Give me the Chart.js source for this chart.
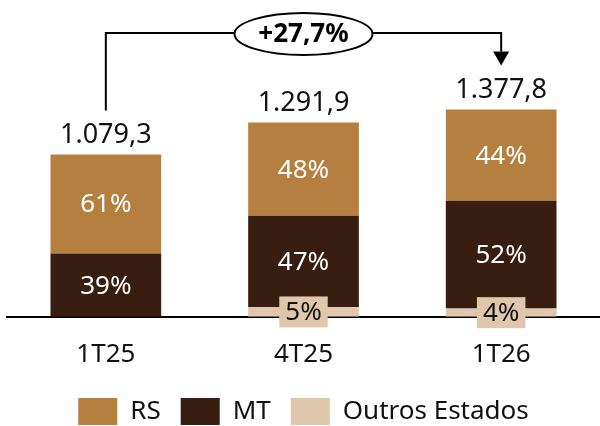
<!DOCTYPE html>
<html>
<head>
<meta charset="utf-8">
<script src="https://cdn.jsdelivr.net/npm/chart.js@4"></script>
<style>
  body { margin: 0; background: #fff; }
</style>
</head>
<body>
<canvas id="chart" width="600" height="426"></canvas>
<script>
// -------------------------- data -------------------------------- //
const periods = ['1T25', '4T25', '1T26'];
const totals = [1079.3, 1291.9, 1377.8];
const pctRS = [61, 48, 44];
const pctMT = [39, 47, 52];
const pctOutros = [0, 5, 4];
const growthLabel = '+27,7%';

const colRS = '#b5803f';
const colMT = '#371e10';
const colOutros = '#dfc7ab';
const FONT = "'Noto Sans', 'Open Sans', sans-serif";

const toValues = (pcts) => pcts.map((p, i) => totals[i] * p / 100);
const fmt = (v) => {
  const s = v.toFixed(1).replace('.', ',');
  const [a, b] = s.split(',');
  return a.replace(/\B(?=(\d{3})+(?!\d))/g, '.') + ',' + b;
};

// labels inside segments, totals on top and the growth arrow
const labelsPlugin = {
  id: 'labels',
  afterDatasetsDraw(chart) {
    const ctx = chart.ctx;
    const pcts = [pctOutros, pctMT, pctRS];
    ctx.save();
    ctx.textAlign = 'center';
    ctx.textBaseline = 'middle';
    pcts.forEach((arr, di) => {
      const meta = chart.getDatasetMeta(di);
      meta.data.forEach((el, i) => {
        if (!arr[i]) return;
        const txt = arr[i] + '%';
        const cy = (el.y + el.base) / 2;
        ctx.font = '26px ' + FONT;
        if (di === 0) {
          const w = ctx.measureText(txt).width + 12;
          ctx.fillStyle = colOutros;
          ctx.fillRect(el.x - w / 2, cy - 15.5, w, 31);
          ctx.fillStyle = '#111';
        } else {
          ctx.fillStyle = '#fff';
        }
        ctx.fillText(txt, el.x, cy + 1);
      });
    });

    // totals
    const top = chart.getDatasetMeta(2).data;
    ctx.font = '27px ' + FONT;
    ctx.fillStyle = '#111';
    ctx.textBaseline = 'bottom';
    top.forEach((el, i) => {
      ctx.fillText(fmt(totals[i]), el.x, el.y - 6);
    });

    // growth arrow
    const x0 = top[0].x, x1 = top[2].x;
    const yLine = chart.chartArea.top + 17;
    const yLeft = top[0].y - 44;
    const yTip = top[2].y - 44;
    ctx.strokeStyle = '#000';
    ctx.lineWidth = 2;
    ctx.beginPath();
    ctx.moveTo(x0, yLeft);
    ctx.lineTo(x0, yLine);
    ctx.lineTo(x1, yLine);
    ctx.lineTo(x1, yTip - 14);
    ctx.stroke();
    ctx.fillStyle = '#000';
    ctx.beginPath();
    ctx.moveTo(x1 - 8, yTip - 14);
    ctx.lineTo(x1 + 8, yTip - 14);
    ctx.lineTo(x1, yTip);
    ctx.closePath();
    ctx.fill();

    const cx = (x0 + x1) / 2;
    ctx.beginPath();
    ctx.ellipse(cx, yLine + 1, 69, 21, 0, 0, Math.PI * 2);
    ctx.fillStyle = '#fff';
    ctx.fill();
    ctx.stroke();
    ctx.fillStyle = '#000';
    ctx.font = 'bold 26px ' + FONT;
    ctx.textBaseline = 'middle';
    ctx.fillText(growthLabel, cx, yLine + 2);
    ctx.restore();
  }
};

const ctx1 = document.getElementById('chart');
const chart = new Chart(ctx1, {
  type: 'bar',
  data: {
    labels: periods,
    datasets: [{
      label: 'Outros Estados',
      data: toValues(pctOutros),
      backgroundColor: colOutros
    }, {
      label: 'MT',
      data: toValues(pctMT),
      backgroundColor: colMT
    }, {
      label: 'RS',
      data: toValues(pctRS),
      backgroundColor: colRS
    }]
  },
  options: {
    responsive: false,
    animation: false,
    layout: { padding: { left: 7, right: 0, top: 16, bottom: -9 } },
    datasets: { bar: { barPercentage: 0.56, categoryPercentage: 1 } },
    scales: {
      x: {
        stacked: true,
        grid: { display: false },
        border: { display: true, color: '#000', width: 2 },
        ticks: { color: '#111', padding: 14, font: { family: FONT, size: 26 } },
        afterFit(scale) { scale.height -= 6; }
      },
      y: {
        stacked: true,
        display: false,
        min: 0,
        max: 2000
      }
    },
    plugins: {
      tooltip: { enabled: false },
      legend: {
        position: 'bottom',
        reverse: true,
        labels: {
          boxWidth: 39,
          boxHeight: 27,
          padding: 20,
          color: '#111',
          font: { family: FONT, size: 26 }
        }
      }
    }
  },
  plugins: [labelsPlugin]
});
</script>
</body>
</html>
